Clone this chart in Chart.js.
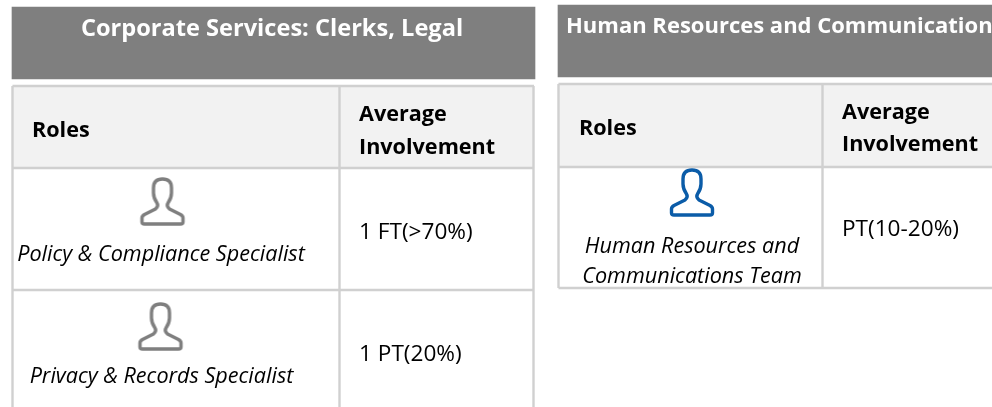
<!DOCTYPE html>
<html>
<head>
<meta charset="utf-8">
<style>
  html, body { margin: 0; padding: 0; background: #fff; }
  #wrap { width: 992px; height: 407px; position: relative; overflow: hidden; }
</style>
</head>
<body>
<div id="wrap"><canvas id="rolesChart" width="992" height="407"></canvas></div>
<script src="https://cdn.jsdelivr.net/npm/chart.js@4/dist/chart.umd.min.js"></script>
<script>
// -------------------------
// Table content
// -------------------------
const panelTitles = ["Corporate Services: Clerks, Legal", "Human Resources and Communication"];
const columnHeads = ["Roles", "Average", "Involvement"];
const leftRoles = ["Policy & Compliance Specialist", "Privacy & Records Specialist"];
const leftInvolvement = ["1 FT(>70%)", "1 PT(20%)"];
const rightRoles = ["Human Resources and", "Communications Team"];
const rightInvolvement = ["PT(10-20%)"];

// -------------------------
// Colours
// -------------------------
const TITLE_BG = "#7f7f7f";
const HEAD_BG = "#f2f2f2";
const RULE = "#d0d0d0";
const ICON_GREY = "#7f7f7f";
const ICON_BLUE = "#0b5ca8";

// person outline used as a custom point style
function personIcon(color) {
  const c = document.createElement("canvas");
  c.width = 50;
  c.height = 52;
  const g = c.getContext("2d");
  g.strokeStyle = color;
  g.lineWidth = 3.4;
  g.lineJoin = "round";
  g.beginPath();
  g.moveTo(7, 48);
  g.lineTo(43, 48);
  g.quadraticCurveTo(45.5, 48, 45.5, 46);
  g.lineTo(45.5, 42);
  g.quadraticCurveTo(45.5, 40, 43, 38.5);
  g.lineTo(32, 33);
  g.quadraticCurveTo(28.5, 30, 30.5, 27);
  g.quadraticCurveTo(34, 22, 34, 17);
  g.lineTo(34, 12);
  g.quadraticCurveTo(34, 3, 25, 3);
  g.quadraticCurveTo(16, 3, 16, 12);
  g.lineTo(16, 17);
  g.quadraticCurveTo(16, 22, 19.5, 27);
  g.quadraticCurveTo(21.5, 30, 18, 33);
  g.lineTo(7, 38.5);
  g.quadraticCurveTo(4.5, 40, 4.5, 42);
  g.lineTo(4.5, 46);
  g.quadraticCurveTo(4.5, 48, 7, 48);
  g.closePath();
  g.stroke();
  return c;
}

// table rules as one line dataset, broken with nulls
function rules(segs) {
  const pts = [];
  segs.forEach(s => {
    pts.push({ x: s[0], y: s[1] }, { x: s[2], y: s[3] }, { x: null, y: null });
  });
  return pts;
}

// -------------------------
// Text drawn at scale positions
// -------------------------
const H = "bold 21.6px 'Open Sans'";
const I = "italic 21.6px 'Open Sans'";
const V = "22.6px 'Open Sans'";
const textRows = [
  [panelTitles[0], 272, 29, "center", "bold 23.6px 'Open Sans'", "#fff"],
  [panelTitles[1], 566, 27, "left", "bold 22px 'Open Sans'", "#fff"],
  [columnHeads[0], 32, 131, "left", H, "#000"],
  [columnHeads[1], 359, 115, "left", H, "#000"],
  [columnHeads[2], 359, 148, "left", H, "#000"],
  [leftRoles[0], 161, 255, "center", I, "#000"],
  [leftRoles[1], 161.5, 377, "center", I, "#000"],
  [leftInvolvement[0], 359, 233, "left", V, "#000"],
  [leftInvolvement[1], 359, 355, "left", V, "#000"],
  [columnHeads[0], 579, 129, "left", H, "#000"],
  [columnHeads[1], 842, 113, "left", H, "#000"],
  [columnHeads[2], 842, 145, "left", H, "#000"],
  [rightRoles[0], 692, 247, "center", I, "#000"],
  [rightRoles[1], 692, 277, "center", I, "#000"],
  [rightInvolvement[0], 842, 230, "left", V, "#000"],
];

const tableText = {
  id: "tableText",
  afterDatasetsDraw(chart) {
    const { ctx, scales } = chart;
    ctx.save();
    ctx.textBaseline = "middle";
    textRows.forEach(([str, x, y, align, font, color]) => {
      ctx.font = font;
      ctx.fillStyle = color;
      ctx.textAlign = align;
      ctx.fillText(str, scales.x.getPixelForValue(x), scales.y.getPixelForValue(y));
    });
    ctx.restore();
  },
};

const bar = (x0, x1, y0, y1, color) => ({
  type: "bar",
  data: [{ x: (x0 + x1) / 2, y: [y0, y1] }],
  backgroundColor: color,
  barThickness: x1 - x0,
  grouped: false,
  borderWidth: 0,
  order: 3,
});

// -------------------------
// Build chart
// -------------------------
new Chart(document.getElementById("rolesChart"), {
  data: {
    datasets: [
      bar(12, 535, 7, 79, TITLE_BG),
      bar(558, 992, 5, 77, TITLE_BG),
      bar(12, 534, 86, 168, HEAD_BG),
      bar(558, 992, 84, 167, HEAD_BG),
      {
        type: "line",
        data: rules([
          [12.5, 86, 534, 86], [12.5, 168, 534, 168], [12.5, 290, 534, 290],
          [12.5, 86, 12.5, 407], [339.5, 86, 339.5, 407], [533.5, 86, 533.5, 407],
          [558.5, 84, 992, 84], [558.5, 167, 992, 167], [558.5, 288, 992, 288],
          [558.5, 84, 558.5, 288], [822.5, 84, 822.5, 288],
        ]),
        borderColor: RULE,
        borderWidth: 2.4,
        pointRadius: 0,
        spanGaps: false,
        tension: 0,
        order: 2,
      },
      {
        type: "scatter",
        data: [{ x: 162.5, y: 202 }, { x: 160.5, y: 327 }],
        pointStyle: personIcon(ICON_GREY),
        order: 1,
      },
      {
        type: "scatter",
        data: [{ x: 692, y: 193 }],
        pointStyle: personIcon(ICON_BLUE),
        order: 1,
      },
    ],
  },
  options: {
    responsive: false,
    animation: false,
    layout: { padding: 0, autoPadding: false },
    plugins: { legend: { display: false }, tooltip: { enabled: false } },
    scales: {
      x: { type: "linear", display: false, offset: false, min: 0, max: 992 },
      y: { type: "linear", display: false, offset: false, min: 0, max: 407, reverse: true },
    },
  },
  plugins: [tableText],
});
</script>
</body>
</html>
